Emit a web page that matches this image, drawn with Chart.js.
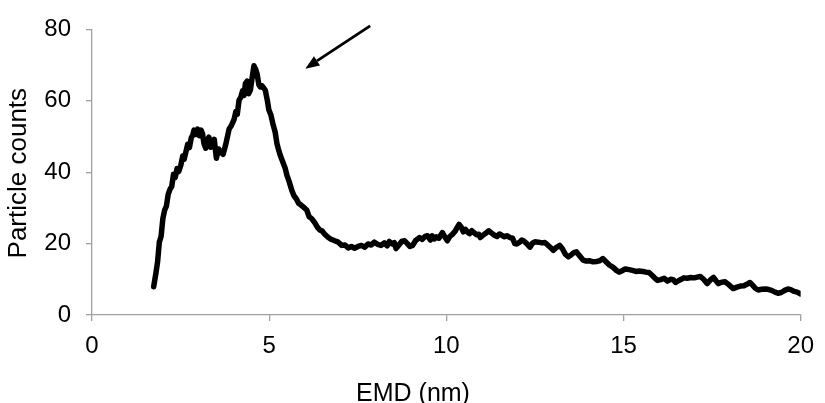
<!DOCTYPE html>
<html>
<head>
<meta charset="utf-8">
<script src="https://cdn.jsdelivr.net/npm/chart.js@4/dist/chart.umd.min.js"></script>
<style>
  html, body { margin: 0; padding: 0; background: #ffffff; }
  #wrap { width: 825px; height: 403px; position: relative; }
</style>
</head>
<body>
<div id="wrap"><canvas id="c" width="825" height="403"></canvas></div>
<script>
// ---- data ----
const emd = [
  1.74,1.80,1.85,1.90,1.95,2.00,2.05,2.10,2.15,2.20,2.25,2.30,2.35,2.40,2.45,2.51,2.56,2.60,2.65,2.70,
  2.75,2.80,2.84,2.88,2.93,2.98,3.03,3.08,3.12,3.16,3.21,3.25,3.30,3.35,3.40,3.45,3.51,3.57,3.63,3.70,
  3.77,3.82,3.87,3.93,4.01,4.06,4.10,4.15,4.20,4.25,4.29,4.33,4.38,4.42,4.47,4.52,4.57,4.62,4.66,4.71,
  4.75,4.80,4.85,4.89,4.95,4.99,5.05,5.10,5.17,5.22,5.26,5.31,5.38,5.45,5.50,5.56,5.64,5.70,5.77,5.83,
  5.90,5.97,6.06,6.13,6.20,6.29,6.36,6.43,6.50,6.57,6.67,6.75,6.85,6.95,7.05,7.14,7.23,7.32,7.41,7.51,
  7.60,7.70,7.79,7.88,7.97,8.06,8.16,8.25,8.33,8.39,8.47,8.53,8.58,8.66,8.74,8.82,8.90,8.97,9.05,9.13,
  9.24,9.32,9.40,9.47,9.55,9.60,9.66,9.72,9.79,9.85,9.89,9.95,10.03,10.10,10.17,10.25,10.30,10.36,10.42,10.48,
  10.54,10.60,10.66,10.72,10.78,10.85,10.92,10.96,11.03,11.10,11.20,11.27,11.35,11.43,11.50,11.57,11.64,11.71,11.80,11.87,
  11.93,11.99,12.07,12.13,12.18,12.27,12.36,12.43,12.50,12.60,12.70,12.78,12.83,12.93,13.02,13.10,13.20,13.28,13.36,13.44,
  13.52,13.60,13.67,13.75,13.86,13.95,14.05,14.14,14.25,14.33,14.42,14.50,14.60,14.70,14.80,14.88,14.96,15.05,15.16,15.25,
  15.35,15.44,15.55,15.64,15.72,15.82,15.90,15.96,16.05,16.15,16.24,16.33,16.40,16.47,16.55,16.63,16.70,16.80,16.90,17.00,
  17.08,17.17,17.26,17.36,17.45,17.54,17.61,17.68,17.77,17.87,17.97,18.04,18.10,18.20,18.30,18.40,18.48,18.57,18.65,18.72,
  18.80,18.90,19.00,19.08,19.18,19.28,19.36,19.45,19.55,19.64,19.72,19.82,19.90,20.00
];
const counts = [
  7.9,11.5,14.8,20.4,22.0,27.0,29.4,30.5,33.8,35.2,36.0,39.4,38.5,41.0,40.2,42.1,44.5,43.6,45.7,47.8,
  46.9,49.6,50.3,51.8,50.6,52.1,50.2,51.8,50.7,48.0,46.7,49.0,49.8,47.0,47.6,49.2,43.9,46.5,45.7,45.0,
  47.6,49.8,52.1,53.0,54.8,57.0,56.2,60.2,61.0,62.8,61.5,64.8,65.5,62.0,63.0,66.5,69.8,68.8,67.5,64.5,
  63.9,64.2,63.5,63.0,60.0,57.5,56.0,53.8,51.2,48.0,46.5,44.8,43.0,41.2,39.2,37.5,34.9,33.4,32.5,31.3,
  30.8,30.2,29.4,27.5,27.0,25.8,24.6,23.8,23.5,22.6,21.7,21.2,20.8,20.4,19.5,19.6,18.8,19.2,18.7,19.2,
  19.5,19.0,19.9,19.6,20.4,19.8,19.5,20.2,19.4,20.6,19.9,20.3,18.6,19.6,20.6,20.8,20.0,19.2,19.5,20.8,
  21.7,21.2,22.0,22.2,21.0,22.2,21.3,21.9,21.5,22.5,23.1,22.0,20.8,22.0,22.6,23.5,24.4,25.4,24.6,23.3,
  24.0,23.2,22.8,23.6,23.1,22.5,22.6,21.7,22.3,22.8,23.6,23.0,22.4,22.0,22.7,22.3,21.9,22.2,21.7,21.5,
  20.0,19.9,20.4,21.0,20.8,20.0,19.0,20.1,20.5,20.4,20.2,20.3,19.9,19.0,18.1,18.9,19.5,18.5,17.0,16.3,
  16.8,17.5,17.7,16.7,15.4,15.1,15.2,14.9,15.0,15.2,15.8,15.0,14.0,13.4,12.5,12.0,12.4,12.9,12.7,12.5,
  12.2,12.3,12.2,12.0,11.9,11.0,10.2,9.7,9.9,10.3,9.5,10.0,9.9,9.1,9.6,10.0,10.4,10.3,10.5,10.4,
  10.6,10.8,10.0,8.8,9.8,10.5,9.6,8.8,9.2,9.3,8.5,7.9,7.4,7.8,8.1,8.2,8.6,9.1,8.3,7.5,
  7.0,7.2,7.3,7.2,6.9,6.4,6.1,6.3,6.9,7.3,7.1,6.6,6.4,5.9
];
const xTicks = [0, 5, 10, 15, 20];
const yTicks = [0, 20, 40, 60, 80];
const xTitle = 'EMD (nm)';
const yTitle = 'Particle counts';
// arrow annotation in data units: [from, to]
const arrowFrom = [7.85, 81.0];
const arrowTo = [6.02, 69.0];

const points = emd.map((x, i) => ({ x: x, y: counts[i] }));
const FONT = "'Liberation Sans', Arial, Helvetica, sans-serif";
const AXIS = '#a0a0a0';

const overlay = {
  id: 'overlay',
  afterDraw(chart) {
    const { ctx, scales: { x, y }, chartArea } = chart;
    ctx.save();
    // arrow
    const x1 = x.getPixelForValue(arrowFrom[0]), y1 = y.getPixelForValue(arrowFrom[1]);
    const x2 = x.getPixelForValue(arrowTo[0]), y2 = y.getPixelForValue(arrowTo[1]);
    const ang = Math.atan2(y2 - y1, x2 - x1);
    const headLen = 14, headHalf = 5.5;
    const bx = x2 - headLen * Math.cos(ang), by = y2 - headLen * Math.sin(ang);
    ctx.strokeStyle = '#000'; ctx.fillStyle = '#000';
    ctx.lineWidth = 2.8;
    ctx.beginPath(); ctx.moveTo(x1, y1); ctx.lineTo(bx, by); ctx.stroke();
    ctx.beginPath();
    ctx.moveTo(x2, y2);
    ctx.lineTo(bx + headHalf * Math.sin(ang), by - headHalf * Math.cos(ang));
    ctx.lineTo(bx - headHalf * Math.sin(ang), by + headHalf * Math.cos(ang));
    ctx.closePath(); ctx.fill();
    // axis titles
    ctx.fillStyle = '#000';
    ctx.font = '25px ' + FONT;
    ctx.textAlign = 'center';
    ctx.textBaseline = 'alphabetic';
    ctx.fillText(xTitle, 413, 401);
    ctx.translate(26, (chartArea.top + chartArea.bottom) / 2 + 1);
    ctx.rotate(-Math.PI / 2);
    ctx.font = '26px ' + FONT;
    ctx.fillText(yTitle, 0, 0);
    ctx.restore();
  }
};

new Chart(document.getElementById('c'), {
  type: 'scatter',
  data: {
    datasets: [{
      data: points,
      showLine: true,
      borderColor: '#000',
      backgroundColor: '#000',
      borderWidth: 5.5,
      borderJoinStyle: 'round',
      borderCapStyle: 'round',
      pointRadius: 0,
      tension: 0
    }]
  },
  options: {
    responsive: false,
    animation: false,
    events: [],
    layout: { autoPadding: false, padding: { left: 0, right: 19, top: 21, bottom: 0 } },
    plugins: { legend: { display: false }, tooltip: { enabled: false } },
    scales: {
      x: {
        type: 'linear', min: 0, max: 20,
        afterBuildTicks: (s) => { s.ticks = xTicks.map(v => ({ value: v })); },
        afterFit: (s) => { s.height = 88; },
        ticks: { color: '#000', font: { family: FONT, size: 24 }, padding: 11, maxRotation: 0 },
        grid: { drawOnChartArea: false, drawTicks: true, tickLength: 6, color: AXIS, lineWidth: 1.3 },
        border: { display: true, color: AXIS, width: 1.3 }
      },
      y: {
        type: 'linear', min: 0, max: 80,
        afterBuildTicks: (s) => { s.ticks = yTicks.map(v => ({ value: v })); },
        afterFit: (s) => { s.width = 92; },
        ticks: { color: '#000', font: { family: FONT, size: 24 }, padding: 15 },
        grid: { drawOnChartArea: false, drawTicks: true, tickLength: 6, color: AXIS, lineWidth: 1.3 },
        border: { display: true, color: AXIS, width: 1.3 }
      }
    }
  },
  plugins: [overlay]
});
</script>
</body>
</html>
